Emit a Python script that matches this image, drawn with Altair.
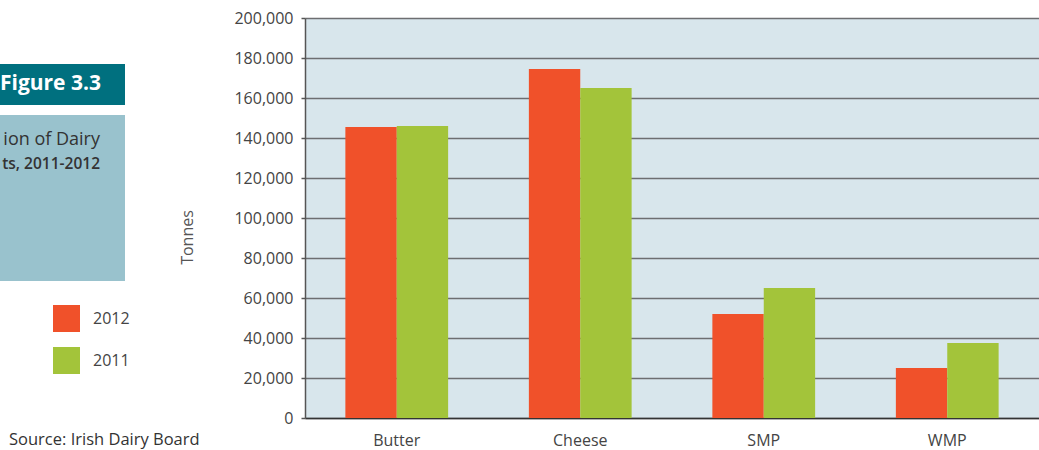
import altair as alt
import pandas as pd

categories = ["Butter", "Cheese", "SMP", "WMP"]
years = ["2012", "2011"]
values_2012 = [145500, 174500, 52000, 25000]
values_2011 = [146000, 165000, 65000, 37500]
colors = ["#F0512A", "#A3C43A"]

rows = []
for c, v12, v11 in zip(categories, values_2012, values_2011):
    rows.append({"cat": c, "year": "2012", "value": v12})
    rows.append({"cat": c, "year": "2011", "value": v11})
df = pd.DataFrame(rows)

FONT = "Open Sans"

bars = alt.Chart(df).mark_bar().encode(
    x=alt.X("cat:N", sort=categories, title=None,
            scale=alt.Scale(paddingInner=0.44, paddingOuter=0.22),
            axis=alt.Axis(labelAngle=0, labelFontSize=16, labelColor="#444",
                          labelFont=FONT, labelPadding=14, ticks=False,
                          domainColor="#333", domainWidth=1.5)),
    xOffset=alt.XOffset("year:N", sort=years, scale=alt.Scale(paddingInner=0, paddingOuter=0)),
    y=alt.Y("value:Q", title="Tonnes",
            scale=alt.Scale(domain=[0, 200000], nice=False),
            axis=alt.Axis(values=list(range(0, 200001, 20000)),
                          labelExpr="datum.value == 180000 ? '180.000' : format(datum.value, ',')",
                          labelFontSize=16, labelColor="#444", labelFont=FONT,
                          labelPadding=8, tickSize=4, tickColor="#555", tickWidth=1.5,
                          grid=True, gridColor="#6D6E71", gridWidth=1.5,
                          domainColor="#555", domainWidth=1.5,
                          titleFont=FONT, titleFontSize=16, titleFontWeight="normal",
                          titleColor="#555", titleX=-110, titleY=219)),
    color=alt.Color("year:N", scale=alt.Scale(domain=years, range=colors),
                    legend=alt.Legend(title=None, orient="none", legendX=-252, legendY=287,
                                      symbolType="square", symbolSize=729,
                                      symbolStrokeWidth=0, labelFontSize=16,
                                      labelColor="#444", labelFont=FONT,
                                      rowPadding=15, labelOffset=13)),
)

one = pd.DataFrame({"k": [0]})

banner = alt.Chart(one).mark_rect(color="#00707F").encode(
    x=alt.value(-306), x2=alt.value(-180), y=alt.value(46), y2=alt.value(87))
box = alt.Chart(one).mark_rect(color="#99C2CD").encode(
    x=alt.value(-306), x2=alt.value(-180), y=alt.value(97), y2=alt.value(263))

fig_txt = alt.Chart(one).mark_text(align="right", baseline="alphabetic", font=FONT,
                                   fontSize=21, fontWeight="bold", color="white").encode(
    x=alt.value(-204), y=alt.value(72), text=alt.value("Figure 3.3"))
t1 = alt.Chart(one).mark_text(align="right", baseline="alphabetic", font=FONT,
                              fontSize=18, color="#333").encode(
    x=alt.value(-205), y=alt.value(127), text=alt.value("ion of Dairy"))
t2 = alt.Chart(one).mark_text(align="right", baseline="alphabetic", font=FONT,
                              fontSize=15.5, fontWeight=600, color="#333").encode(
    x=alt.value(-205), y=alt.value(151), text=alt.value("ts, 2011-2012"))
src = alt.Chart(one).mark_text(align="left", baseline="alphabetic", font=FONT,
                               fontSize=16.5, color="#333").encode(
    x=alt.value(-296), y=alt.value(427), text=alt.value("Source: Irish Dairy Board"))

chart = alt.layer(banner, box, fig_txt, t1, t2, src, bars).properties(
    width=734, height=400,
    autosize=alt.AutoSizeParams(type="none"),
    padding={"left": 305, "top": 18, "right": 0, "bottom": 32},
    background="white",
).configure_view(fill="#D8E6EC", stroke=None)

chart.save("out.html", embed_options={"renderer": "svg", "actions": False})
